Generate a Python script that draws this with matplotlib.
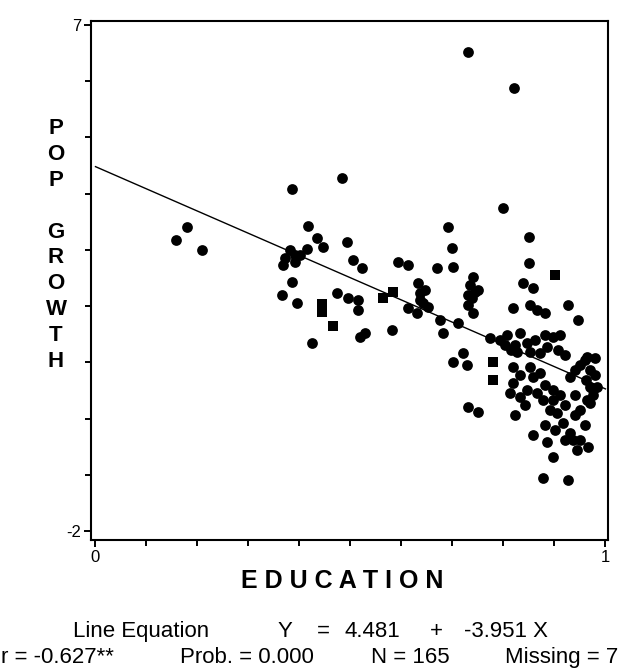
import matplotlib
matplotlib.use("Agg")
import matplotlib.pyplot as plt
from matplotlib.ticker import FixedLocator

plt.rcParams['font.family'] = ['Liberation Sans', 'DejaVu Sans']

# ---- data ----
circle_x = [0.179, 0.158, 0.209, 0.385, 0.483, 0.417, 0.434, 0.446, 0.493, 0.381,
            0.371, 0.391, 0.401, 0.415, 0.368, 0.505, 0.523, 0.385, 0.366, 0.395,
            0.474, 0.495, 0.515, 0.515, 0.425, 0.519, 0.528, 0.593, 0.613, 0.670,
            0.691, 0.699, 0.701, 0.632, 0.636, 0.642, 0.646, 0.613, 0.630, 0.652,
            0.581, 0.675, 0.681, 0.711, 0.721, 0.701, 0.729, 0.730, 0.750, 0.740,
            0.734, 0.744, 0.738, 0.730, 0.740, 0.730, 0.821, 0.799, 0.850, 0.850,
            0.838, 0.858, 0.926, 0.946, 0.819, 0.852, 0.866, 0.881, 0.793, 0.807,
            0.832, 0.846, 0.897, 0.907, 0.885, 0.872, 0.964, 0.950, 0.819, 0.819,
            0.832, 0.852, 0.872, 0.930, 0.970, 0.964, 0.897, 0.877, 0.846, 0.858,
            0.866, 0.897, 0.905, 0.917, 0.936, 0.944, 0.966, 0.950, 0.975, 0.858,
            0.885, 0.897, 0.877, 0.926, 0.891, 0.930, 0.970, 0.826, 0.803, 0.774,
            0.911, 0.960, 0.940, 0.983, 0.979, 0.975,
            0.823, 0.862, 0.881, 0.921, 0.832, 0.842, 0.881, 0.911, 0.921, 0.940,
            0.960, 0.950, 0.921, 0.979, 0.970, 0.881, 0.901, 0.750, 0.730, 0.636,
            0.391, 0.815, 0.852, 0.940, 0.962, 0.813, 0.823]
circle_y = [3.41, 3.18, 3.00, 4.08, 4.28, 3.43, 3.21, 3.05, 3.14, 3.00,
            2.86, 2.79, 2.91, 3.02, 2.73, 2.82, 2.68, 2.43, 2.20, 2.06,
            2.24, 2.14, 2.11, 1.93, 1.35, 1.45, 1.52, 2.79, 2.73, 2.68,
            3.41, 3.03, 2.70, 2.41, 2.24, 2.06, 2.29, 1.97, 1.88, 1.99,
            1.58, 1.76, 1.52, 1.70, 1.17, 1.01, 0.96, 0.21, 0.12, 2.52,
            2.38, 2.25, 2.14, 2.02, 1.88, 6.52, 5.88, 3.75, 3.23, 2.77,
            2.41, 2.32, 2.02, 1.76, 1.97, 2.02, 1.93, 1.88, 1.40, 1.49,
            1.52, 1.35, 1.45, 1.22, 1.28, 1.17, 1.10, 0.96, 0.92, 0.64,
            0.39, 0.92, 0.81, 0.74, 0.56, 0.33, 0.51, 0.33, 0.51, 0.74,
            0.46, 0.33, 0.10, -0.08, -0.38, -0.55, -0.50, 0.16, 0.51, -0.29,
            -0.41, -0.68, -1.05, -1.09, 0.16, -0.25, 0.28, 1.19, 1.31, 1.43,
            1.49, 1.04, 0.87, 0.56, 1.08, 0.42,
            1.31, 1.40, 1.49, 1.13, 0.78, 0.24, 0.60, 0.42, 0.24, 0.06,
            -0.12, -0.38, -0.38, 0.78, 0.87, -0.12, -0.20, 2.29, 2.20, 2.11,
            2.91, 1.22, 1.19, 0.42, 0.68, 0.45, 0.07]
square_x = [0.444, 0.444, 0.466, 0.583, 0.564, 0.901, 0.779, 0.779]
square_y = [2.04, 1.90, 1.65, 2.25, 2.14, 2.56, 1.01, 0.69]

intercept = 4.481
slope = -3.951
fit_x = [0.0, 1.0]

x_major = [0, 1]
x_minor = [0.1, 0.2, 0.3, 0.4, 0.5, 0.6, 0.7, 0.8, 0.9]
y_major = [-2, 7]
y_minor = [-1, 0, 1, 2, 3, 4, 5, 6]

# ---- figure ----
W, H = 620, 672
fig = plt.figure(figsize=(W / 100, H / 100), dpi=100)
ax = fig.add_axes([91 / W, 1 - 540 / H, (608 - 91) / W, (540 - 21) / H])

ax.scatter(circle_x, circle_y, s=60, marker='o', color='black', linewidths=0, zorder=3)
ax.scatter(square_x, square_y, s=48, marker='s', color='black', linewidths=0, zorder=3)
ax.plot(fit_x, [intercept + slope * v for v in fit_x], color='black', lw=1.0, zorder=2)

ax.set_xlim(-0.0088, 1.005)
ax.set_ylim(-2.156, 7.07)

ax.xaxis.set_major_locator(FixedLocator(x_major))
ax.xaxis.set_minor_locator(FixedLocator(x_minor))
ax.yaxis.set_major_locator(FixedLocator(y_major))
ax.yaxis.set_minor_locator(FixedLocator(y_minor))
ax.set_xticklabels(['0', '1'])
ax.set_yticklabels(['-2', '7'])
ax.tick_params(which='both', direction='out', width=1.4, labelsize=12, pad=2)
ax.tick_params(which='major', length=5)
ax.tick_params(which='minor', length=4)
for sp in ax.spines.values():
    sp.set_linewidth(1.5)

def px(x, y, s, **kw):
    fig.text(x / W, 1 - y / H, s, **kw)

px(56, 245, "P\nO\nP\n\nG\nR\nO\nW\nT\nH", ha='center', va='center',
   fontsize=16, fontweight='bold', linespacing=1.3)
px(342, 588, "E D U C A T I O N", ha='center', va='baseline', fontsize=18, fontweight='bold')

fs = 16
y2, y3 = 637, 663
px(73, y2, "Line Equation", ha='left', va='baseline', fontsize=fs)
px(285, y2, "Y", ha='center', va='baseline', fontsize=fs)
px(323, y2, "=", ha='center', va='baseline', fontsize=fs)
px(345, y2, "4.481", ha='left', va='baseline', fontsize=fs)
px(436, y2, "+", ha='center', va='baseline', fontsize=fs)
px(464, y2, "-3.951 X", ha='left', va='baseline', fontsize=fs)

px(1, y3, "r = -0.627**", ha='left', va='baseline', fontsize=fs)
px(180, y3, "Prob. = 0.000", ha='left', va='baseline', fontsize=fs)
px(371, y3, "N = 165", ha='left', va='baseline', fontsize=fs)
px(618, y3, "Missing = 7", ha='right', va='baseline', fontsize=fs)

fig.savefig("out.png", dpi=100)
